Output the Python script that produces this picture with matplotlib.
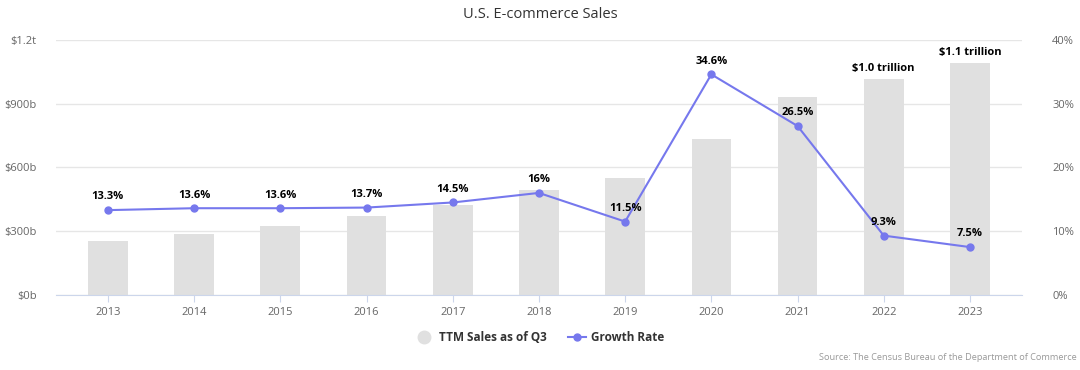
import numpy as np
import matplotlib.pyplot as plt
from matplotlib.lines import Line2D

years = ["2013", "2014", "2015", "2016", "2017", "2018", "2019", "2020", "2021", "2022", "2023"]
# TTM ventas en miles de millones
ventas = [254, 287, 325, 372, 424, 494, 551, 734, 932, 1016, 1092]
crecimiento = [13.3, 13.6, 13.6, 13.7, 14.5, 16.0, 11.5, 34.6, 26.5, 9.3, 7.5]
etiquetas_crec = ["13.3%", "13.6%", "13.6%", "13.7%", "14.5%", "16%", "11.5%", "34.6%", "26.5%", "9.3%", "7.5%"]
etiquetas_ventas = {9: "$1.0 trillion", 10: "$1.1 trillion"}
ticks_izq = [0, 300, 600, 900, 1200]
ticks_izq_txt = ["$0b", "$300b", "$600b", "$900b", "$1.2t"]
ticks_der = [0, 10, 20, 30, 40]

plt.rcParams['font.family'] = ['Open Sans', 'DejaVu Sans']

fig = plt.figure(figsize=(10.8, 3.7), dpi=100)
ax = fig.add_axes([0.052, 0.203, 0.894, 0.689])
ax2 = ax.twinx()

x = np.arange(len(years))
color_barra = "#e0e0e0"
color_linea = "#7678ed"

ax.bar(x, ventas, width=0.46, color=color_barra, zorder=2)
ax.set_ylim(0, 1200)
ax.set_xlim(-0.6, len(years) - 0.4)
ax.set_yticks(ticks_izq)
ax.set_yticklabels(ticks_izq_txt)
ax.set_xticks(x)
ax.set_xticklabels(years)
ax.grid(axis='y', color="#e6e6e6", linewidth=1, zorder=0)
ax.set_axisbelow(True)

for i, txt in etiquetas_ventas.items():
    ax.text(x[i], ventas[i] + 25, txt, ha='center', va='bottom', fontsize=8, fontweight='bold', color="#000000")

ax2.plot(x, crecimiento, color=color_linea, linewidth=1.5, marker='o', markersize=5, zorder=3)
ax2.set_ylim(0, 40)
ax2.set_yticks(ticks_der)
ax2.set_yticklabels([str(t) + "%" for t in ticks_der])
for i, txt in enumerate(etiquetas_crec):
    ax2.text(x[i], crecimiento[i] + 1.2, txt, ha='center', va='bottom', fontsize=8, fontweight='bold', color="#000000")

for a in (ax, ax2):
    for s in a.spines.values():
        s.set_visible(False)
    a.tick_params(axis='y', length=0, labelsize=8, labelcolor="#666666")
ax.tick_params(axis='y', pad=14)
ax2.tick_params(axis='y', pad=22)
ax.spines['bottom'].set_visible(True)
ax.spines['bottom'].set_color("#ccd6eb")
ax.tick_params(axis='x', length=5, color="#ccd6eb", labelsize=8, labelcolor="#666666", pad=4)

fig.text(0.5, 0.962, "U.S. E-commerce Sales", ha='center', va='center', fontsize=10.5, color="#333333")

# Leyenda
handles = [Line2D([0], [0], marker='o', linestyle='', markersize=9, markerfacecolor=color_barra, markeredgecolor=color_barra),
           Line2D([0], [0], marker='o', color=color_linea, markersize=5, linewidth=1.5)]
fig.legend(handles, ["TTM Sales as of Q3", "Growth Rate"], loc='center', bbox_to_anchor=(0.5, 0.087), ncol=2,
           frameon=False, prop={'size': 8.5, 'weight': 'bold'}, labelcolor="#333333", handlelength=1.5,
           columnspacing=1.8, handletextpad=0.5)

fig.text(0.997, 0.035, "Source: The Census Bureau of the Department of Commerce", ha='right', va='center',
         fontsize=6.6, color="#999999")

fig.savefig("out.png", dpi=100)
